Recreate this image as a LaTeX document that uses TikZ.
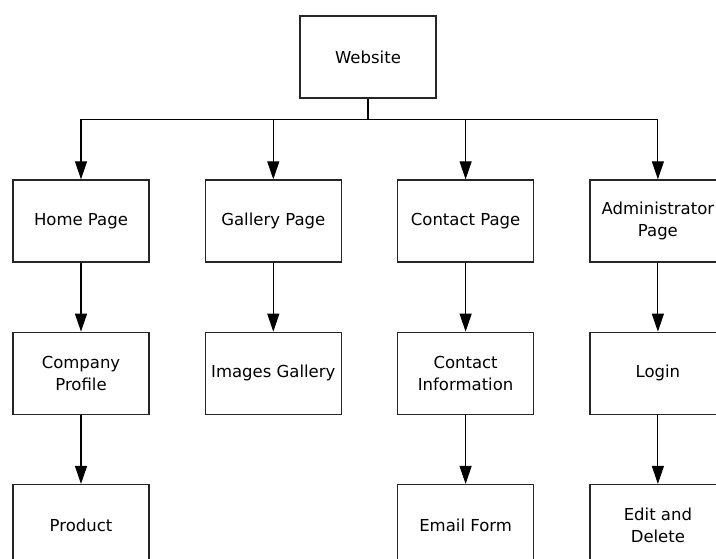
\documentclass[tikz,border=0pt]{standalone}
\usepackage{fontspec}
\setmainfont{DejaVu Sans}
\usetikzlibrary{positioning, arrows.meta}

\begin{document}
\begin{tikzpicture}[
    x=1pt, y=1pt,
    node distance=69pt and 55pt, % Vertical and horizontal gaps between boxes
    page/.style={draw=black!85, line width=1.3pt, minimum width=136pt, minimum height=82pt,
      align=center, font=\fontsize{16.5}{22}\selectfont}, % Style for page boxes
    link/.style={line width=1.1pt, -{Triangle[length=18pt, width=12pt]}} % Style for links
  ]
    \useasboundingbox (0,0) rectangle (716,559);

    % Define nodes
    \node (web)   [page] at (368,502)          {Website};
    \node (home)  [page] at (81,338)           {Home Page};
    \node (gal)   [page, right=of home]        {Gallery Page};
    \node (cont)  [page, right=of gal]         {Contact Page};
    \node (adm)   [page, right=of cont]        {Administrator\\Page};
    \node (prof)  [page, below=of home]        {Company\\Profile};
    \node (img)   [page, below=of gal]         {Images Gallery};
    \node (info)  [page, below=of cont]        {Contact\\Information};
    \node (login) [page, below=of adm]         {Login};
    \node (prod)  [page, below=of prof]        {Product};
    \node (mail)  [page, below=of info]        {Email Form};
    \node (edit)  [page, below=of login]       {Edit and\\Delete};

    % Draw arrows
    \draw[link] (web.south) -- ++(0,-21) -| (home.north); % Branch to home
    \draw[link] (web.south) -- ++(0,-21) -| (gal.north);
    \draw[link] (web.south) -- ++(0,-21) -| (cont.north);
    \draw[link] (web.south) -- ++(0,-21) -| (adm.north);
    \draw[link] (home) -- (prof);
    \draw[link] (prof) -- (prod);
    \draw[link] (gal) -- (img);
    \draw[link] (cont) -- (info);
    \draw[link] (info) -- (mail);
    \draw[link] (adm) -- (login);
    \draw[link] (login) -- (edit);
\end{tikzpicture}
\end{document}
